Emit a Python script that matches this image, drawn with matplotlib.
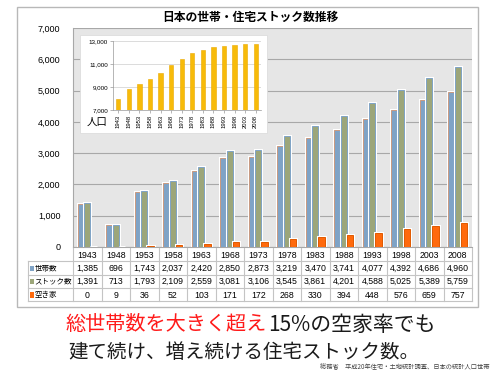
import numpy as np
import matplotlib.pyplot as plt
import matplotlib.patheffects as pe
from matplotlib.patches import Rectangle

plt.rcParams['font.family'] = ['Noto Sans CJK JP', 'DejaVu Sans']

# データ（万世帯・万戸）
years = ['1943', '1948', '1953', '1958', '1963', '1968', '1973',
         '1978', '1983', '1988', '1993', '1998', '2003', '2008']
households = [1385, 696, 1743, 2037, 2420, 2850, 2873, 3219, 3470, 3741, 4077, 4392, 4686, 4960]
stock = [1391, 713, 1793, 2109, 2559, 3081, 3106, 3545, 3861, 4201, 4588, 5025, 5389, 5759]
vacant = [0, 9, 36, 52, 103, 171, 172, 268, 330, 394, 448, 576, 659, 757]
# 人口（万人）
population = [7930, 8790, 9250, 9710, 10230, 10870, 11470, 11960, 12220, 12480, 12600, 12650, 12770, 12770]

series_names = ['世帯数', 'ストック数', '空き家']
series_data = [households, stock, vacant]
colors = ['#7fa3c6', '#9ca67a', '#ff6a0d']
edges = ['#c99a80', '#7fa3c6', '#e05a00']

W, H = 495, 374
fig = plt.figure(figsize=(W / 100, H / 100), dpi=100)

def fx(px):
    return px / W

def fy(py):
    return 1 - py / H

# 外枠
fig.patches.append(Rectangle((fx(17), fy(307)), fx(478) - fx(17), fy(7) - fy(307),
                             transform=fig.transFigure, facecolor='white',
                             edgecolor='#b8b8b8', linewidth=1.0, zorder=-5))

fig.text(fx(250), fy(17), '日本の世帯・住宅ストック数推移', ha='center', va='center',
         fontsize=8.5, fontweight='bold')

# メインの棒グラフ
ax = fig.add_axes([fx(73), fy(247), fx(472) - fx(73), fy(28) - fy(247)])
ax.set_zorder(0)
ax.set_facecolor('#e6e6e6')
x = np.arange(len(years))
w = 0.22
glow = [pe.Stroke(linewidth=2.2, foreground='white'), pe.Normal()]
for i, (vals, c, ec) in enumerate(zip(series_data, colors, edges)):
    bars = ax.bar(x + (i - 1) * w, vals, w, color=c, edgecolor=ec, linewidth=0.7, zorder=3)
    for b in bars:
        b.set_path_effects(glow)
ax.set_xlim(-0.5, len(years) - 0.5)
ax.set_ylim(0, 7000)
ax.set_yticks(range(0, 7001, 1000))
ax.set_yticklabels([f'{v:,}' for v in range(0, 7001, 1000)], fontsize=6.5,
                   family=['Liberation Sans', 'DejaVu Sans'])
ax.set_xticks([])
ax.tick_params(axis='y', length=0, pad=9)
ax.grid(axis='y', color='#a8a8a8', linewidth=0.8, zorder=1)
for s in ['top', 'right']:
    ax.spines[s].set_visible(False)
ax.spines['left'].set_color('#a8a8a8')
ax.spines['bottom'].set_color('#a8a8a8')

# データ表
group_px = (472 - 73) / len(years)
left_units = (73 - 28) / group_px
tab = fig.add_axes([fx(28), fy(301), fx(472) - fx(28), fy(248) - fy(301)])
tab.set_xlim(-0.5 - left_units, len(years) - 0.5)
tab.set_ylim(4, 0)
tab.axis('off')
line_c = '#c4c4c4'
tab_font = ['Liberation Sans', 'Noto Sans CJK JP']
for r in range(1, 5):
    tab.plot([-0.5 - left_units, len(years) - 0.5], [r, r], color=line_c, lw=0.8, clip_on=False)
tab.plot([-0.5 - left_units] * 2, [1, 4], color=line_c, lw=0.8, clip_on=False)
for k in range(len(years) + 1):
    tab.plot([k - 0.5] * 2, [0, 4], color=line_c, lw=0.8, clip_on=False)
for j, yr in enumerate(years):
    tab.text(j, 0.55, yr, ha='center', va='center', fontsize=6.3, family=tab_font)
for r, (name, vals, c) in enumerate(zip(series_names, series_data, colors)):
    yy = r + 1.55
    tab.add_patch(Rectangle((-0.5 - left_units + 0.06, yy - 0.2), 0.14, 0.4,
                            facecolor=c, edgecolor='none', clip_on=False))
    tab.text(-0.5 - left_units + 0.23, yy, name, ha='left', va='center', fontsize=5.4)
    for j, v in enumerate(vals):
        tab.text(j, yy, f'{v:,}', ha='center', va='center', fontsize=6.3, family=tab_font)

# 人口の挿入グラフ
fig.patches.append(Rectangle((fx(80), fy(133)), fx(267) - fx(80), fy(35) - fy(133),
                             transform=fig.transFigure, facecolor='white',
                             edgecolor='#dddddd', linewidth=0.6, zorder=0.5))
ins = fig.add_axes([fx(113), fy(110), fx(261) - fx(113), fy(41) - fy(110)])
ins.set_zorder(1)
ins.set_facecolor('white')
ins.bar(x, population, 0.4, color='#f7bb0a', edgecolor='#eaa800', linewidth=0.4, zorder=3)
ins.set_xlim(-0.5, len(years) - 0.5)
ins.set_ylim(7000, 13000)
ins.set_yticks(range(7000, 13001, 2000))
ins.set_yticklabels([f'{v:,}' for v in range(7000, 13001, 2000)], fontsize=4.5,
                    family=['Liberation Sans', 'DejaVu Sans'])
ins.set_xticks(x)
ins.set_xticklabels(years, rotation=90, fontsize=4.2, family=['Liberation Sans', 'DejaVu Sans'])
ins.tick_params(axis='both', length=2, width=0.5, color='#999999', pad=1.5)
ins.grid(axis='y', color='#d6d6d6', linewidth=0.6, zorder=0)
for s in ['top', 'right']:
    ins.spines[s].set_visible(False)
ins.spines['left'].set_color('#999999')
ins.spines['bottom'].set_color('#999999')
ins.spines['left'].set_linewidth(0.5)
ins.spines['bottom'].set_linewidth(0.5)
fig.text(fx(97), fy(122), '人口', ha='center', va='center', fontsize=7.5, zorder=2)

# メッセージ
fig.text(fx(267), fy(325), '総世帯数を大きく超え', ha='right', va='center',
         fontsize=14.5, color='#ff1a1a')
fig.text(fx(268), fy(325), '15%の空家率でも', ha='left', va='center',
         fontsize=15, color='#1a1a1a')
fig.text(fx(244), fy(352), '建て続け、増え続ける住宅ストック数。', ha='center', va='center',
         fontsize=14, color='#1a1a1a')
fig.text(fx(490), fy(366), '総務省　平成20年住宅・土地統計調査、日本の統計人口世帯',
         ha='right', va='center', fontsize=4.5, color='#444444')

fig.savefig('out.png', dpi=100)
